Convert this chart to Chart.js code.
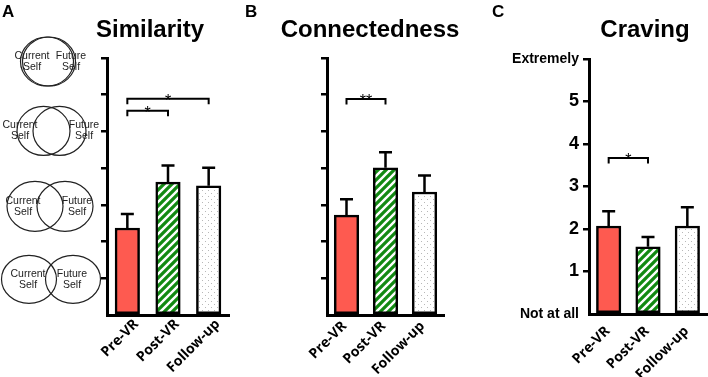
<!DOCTYPE html>
<html>
<head>
<meta charset="utf-8">
<script src="https://cdn.jsdelivr.net/npm/chart.js@4"></script>
<style>
  html, body { margin: 0; padding: 0; background: #fff; }
  #wrap { position: relative; width: 708px; height: 377px; }
  #wrap canvas { position: absolute; left: 0; top: 0; }
</style>
</head>
<body>
<div id="wrap">
  <canvas id="chartA" width="708" height="377"></canvas>
  <canvas id="chartB" width="708" height="377"></canvas>
  <canvas id="chartC" width="708" height="377"></canvas>
</div>
<script>
const categories = ['Pre-VR', 'Post-VR', 'Follow-up'];

const similarityMeans = [2.37, 3.62, 3.52];
const similarityErrors = [0.38, 0.45, 0.49];
const connectednessMeans = [2.72, 4.01, 3.35];
const connectednessErrors = [0.43, 0.42, 0.45];
const cravingMeans = [2.07, 1.58, 2.07];
const cravingErrors = [0.35, 0.23, 0.44];

const cravingTickLabels = ['Not at all', '1', '2', '3', '4', '5', 'Extremely'];
const vennLevels = [1, 3, 5, 7];

// significance brackets: [from bar, to bar, height, stars]
const similarityBrackets = [[0, 1, 5.56, '*'], [0, 2, 5.89, '*']];
const connectednessBrackets = [[0, 1, 5.88, '**']];
const cravingBrackets = [[0, 1, 3.67, '*']];

const SANS = '"Liberation Sans", Arial, sans-serif';

function hatchPattern() {
    const c = document.createElement('canvas');
    c.width = 8; c.height = 8;
    const g = c.getContext('2d');
    g.fillStyle = '#138a13';
    g.fillRect(0, 0, 8, 8);
    g.strokeStyle = '#fff';
    g.lineWidth = 2.4;
    g.beginPath();
    g.moveTo(-2, 10); g.lineTo(10, -2);
    g.moveTo(-6, 6); g.lineTo(6, -6);
    g.moveTo(2, 14); g.lineTo(14, 2);
    g.stroke();
    return g.createPattern(c, 'repeat');
}

function dotPattern() {
    const c = document.createElement('canvas');
    c.width = 6; c.height = 6;
    const g = c.getContext('2d');
    g.fillStyle = '#fff';
    g.fillRect(0, 0, 6, 6);
    g.fillStyle = '#b8b8b8';
    g.fillRect(1, 1, 1, 1);
    g.fillRect(4, 4, 1, 1);
    return g.createPattern(c, 'repeat');
}

// error bars, brackets, panel titles
const extrasPlugin = {
    id: 'extras',
    afterDatasetsDraw(chart, args, opts) {
        const ctx = chart.ctx;
        const y = chart.scales.y;
        const meta = chart.getDatasetMeta(0);
        const data = chart.data.datasets[0].data;
        ctx.save();
        ctx.strokeStyle = '#000';
        ctx.lineWidth = 2.5;
        meta.data.forEach(function(bar, i) {
            const top = y.getPixelForValue(data[i] + opts.errors[i]);
            ctx.beginPath();
            ctx.moveTo(bar.x, bar.y);
            ctx.lineTo(bar.x, top);
            ctx.moveTo(bar.x - 6.5, top);
            ctx.lineTo(bar.x + 6.5, top);
            ctx.stroke();
        });
        ctx.lineWidth = 2;
        ctx.fillStyle = '#000';
        ctx.font = '16px ' + SANS;
        ctx.textAlign = 'center';
        ctx.textBaseline = 'alphabetic';
        opts.brackets.forEach(function(b) {
            const x1 = meta.data[b[0]].x, x2 = meta.data[b[1]].x;
            const by = y.getPixelForValue(b[2]);
            ctx.beginPath();
            ctx.moveTo(x1, by + 5.5);
            ctx.lineTo(x1, by);
            ctx.lineTo(x2, by);
            ctx.lineTo(x2, by + 5.5);
            ctx.stroke();
            ctx.fillText(b[3], (x1 + x2) / 2, by + 7);
        });
        ctx.restore();
    },
    afterDraw(chart, args, opts) {
        const ctx = chart.ctx;
        ctx.save();
        ctx.fillStyle = '#000';
        ctx.textBaseline = 'alphabetic';
        ctx.font = 'bold 24px ' + SANS;
        ctx.textAlign = 'center';
        ctx.fillText(opts.title, opts.titleX, 37);
        ctx.font = 'bold 17px ' + SANS;
        ctx.textAlign = 'left';
        ctx.fillText(opts.letter, opts.letterX, 17);
        ctx.restore();
    }
};

// overlapping-self circles beside the Similarity axis
const vennPlugin = {
    id: 'venn',
    afterDraw(chart) {
        const ctx = chart.ctx;
        const y = chart.scales.y;
        const shapes = [
            { c1: 29, c2: 73, rx: 27.5, ry: 24, t1: 28, t2: 72, dy: 1 },
            { c1: 35, c2: 65, rx: 28, ry: 25, t1: 23, t2: 77, dy: 1.5 },
            { c1: 43.5, c2: 59.5, rx: 26.5, ry: 24.5, t1: 20, t2: 84, dy: -0.5 },
            { c1: 47, c2: 49, rx: 26.5, ry: 24.5, t1: 32, t2: 71, dy: 3.5 }
        ];
        ctx.save();
        ctx.strokeStyle = '#222';
        ctx.fillStyle = '#222';
        ctx.lineWidth = 1.2;
        ctx.font = '10.5px ' + SANS;
        ctx.textAlign = 'center';
        ctx.textBaseline = 'middle';
        vennLevels.forEach(function(level, i) {
            const s = shapes[i];
            const cy = y.getPixelForValue(level) + s.dy;
            [s.c1, s.c2].forEach(function(cx) {
                ctx.beginPath();
                ctx.ellipse(cx, cy, s.rx, s.ry, 0, 0, Math.PI * 2);
                ctx.stroke();
            });
            ctx.fillText('Current', s.t1, cy - 5.5);
            ctx.fillText('Self', s.t1, cy + 5.5);
            ctx.fillText('Future', s.t2, cy - 5.5);
            ctx.fillText('Self', s.t2, cy + 5.5);
        });
        ctx.restore();
    }
};

function makePanel(id, p) {
    const ctx = document.getElementById(id).getContext('2d');
    const plugins = [extrasPlugin];
    if (p.venn) plugins.push(vennPlugin);
    return new Chart(ctx, {
        type: 'bar',
        data: {
            labels: categories,
            datasets: [{
                data: p.means,
                backgroundColor: ['#fe5a50', hatchPattern(), dotPattern()],
                borderColor: '#000',
                borderWidth: 2.5,
                borderSkipped: false,
                barThickness: 24.5
            }]
        },
        options: {
            responsive: false,
            animation: false,
            devicePixelRatio: 1,
            layout: { padding: { left: 0, right: 708 - p.right, top: p.top, bottom: 0 } },
            scales: {
                x: {
                    grid: { display: false },
                    border: { display: true, color: '#000', width: 3 },
                    ticks: {
                        color: '#000',
                        font: { family: '"Open Sans", sans-serif', size: 14, weight: 'bold' },
                        minRotation: 45,
                        maxRotation: 45,
                        autoSkip: false,
                        padding: p.labelPad,
                        labelOffset: p.labelShift
                    },
                    afterFit: function(s) { s.height = 377 - p.bottom; }
                },
                y: {
                    min: 0,
                    max: p.yMax,
                    ticks: {
                        stepSize: 1,
                        display: !!p.tickLabels,
                        color: '#000',
                        padding: 4,
                        callback: function(v) { return p.tickLabels ? p.tickLabels[v] : ''; },
                        font: function(c) {
                            const v = c.tick ? c.tick.value : 1;
                            if (v === 0 || v === p.yMax) return { family: SANS, size: 14, weight: 'bold' };
                            return { family: SANS, size: 18, weight: 'bold' };
                        }
                    },
                    grid: {
                        drawOnChartArea: false,
                        drawTicks: true,
                        tickLength: 6,
                        lineWidth: 2.5,
                        color: '#000',
                        tickColor: function(c) { return c.tick && c.tick.value === 0 ? 'rgba(0,0,0,0)' : '#000'; }
                    },
                    border: { display: true, color: '#000', width: 3 },
                    afterFit: function(s) { s.width = p.left; }
                }
            },
            plugins: {
                legend: { display: false },
                tooltip: { enabled: false },
                extras: {
                    errors: p.errors,
                    brackets: p.brackets,
                    title: p.title,
                    titleX: p.titleX,
                    letter: p.letter,
                    letterX: p.letterX
                }
            }
        },
        plugins: plugins
    });
}

makePanel('chartA', {
    means: similarityMeans, errors: similarityErrors, brackets: similarityBrackets,
    left: 107, right: 229, top: 58, bottom: 315, yMax: 7, labelPad: -7, labelShift: 9,
    title: 'Similarity', titleX: 150, letter: 'A', letterX: 2, venn: true
});

makePanel('chartB', {
    means: connectednessMeans, errors: connectednessErrors, brackets: connectednessBrackets,
    left: 327, right: 444, top: 58, bottom: 315, yMax: 7, labelPad: -5, labelShift: -2,
    title: 'Connectedness', titleX: 370, letter: 'B', letterX: 245
});

makePanel('chartC', {
    means: cravingMeans, errors: cravingErrors, brackets: cravingBrackets,
    left: 589, right: 707, top: 59, bottom: 314, yMax: 6, labelPad: 1, labelShift: -1,
    title: 'Craving', titleX: 645, letter: 'C', letterX: 492, tickLabels: cravingTickLabels
});
</script>
</body>
</html>
